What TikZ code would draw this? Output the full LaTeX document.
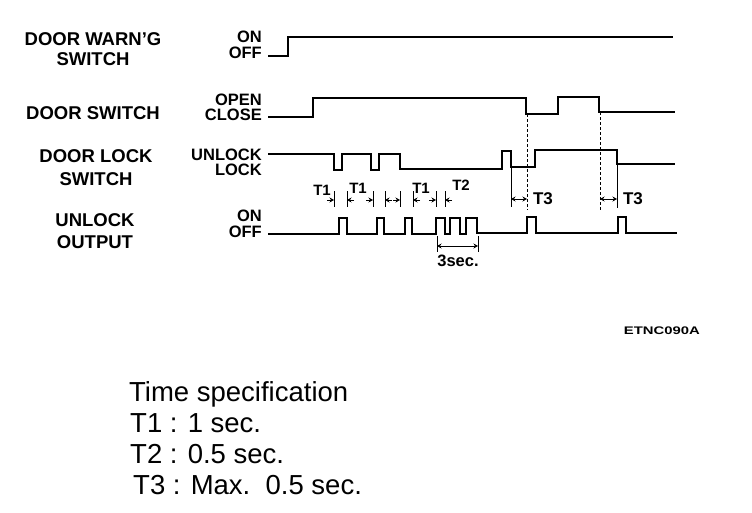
\documentclass[tikz,border=0pt]{standalone}
\usepackage{fontspec}
\setmainfont{Liberation Sans}
\usetikzlibrary{arrows.meta}

\begin{document}
\begin{tikzpicture}[x=1pt,y=1pt,yscale=-1,xscale=1,
    wave/.style={line width=1.7pt,line join=miter},
    guide/.style={line width=0.6pt},
    tickline/.style={line width=0.6pt},
    inarrow/.style={line width=0.8pt,-{Stealth[length=4.5pt,width=5pt]}},
    twoarrow/.style={line width=0.8pt,{Stealth[length=4.5pt,width=5pt]}-{Stealth[length=4.5pt,width=5pt]}},
    sig/.style={font=\fontsize{18.5}{18.5}\selectfont\bfseries,inner sep=0pt},
    lvl/.style={font=\fontsize{16.5}{16.5}\selectfont\bfseries,inner sep=0pt,anchor=east},
    tname/.style={font=\fontsize{15}{15}\selectfont\bfseries,inner sep=0pt},
    spec/.style={font=\fontsize{27.5}{27.5}\selectfont,inner sep=0pt,anchor=base west}]
        \useasboundingbox (0,0) rectangle (752,512);

        % Text Node
        \draw (93,39) node (warnA) [sig] {DOOR WARN'G};
        % Text Node
        \draw (93,59) node (warnB) [sig] {SWITCH};
        % Text Node
        \draw (93,113) node (doorA) [sig] {DOOR SWITCH};
        % Text Node
        \draw (96,156) node (lockA) [sig] {DOOR LOCK};
        % Text Node
        \draw (96,179) node (lockB) [sig] {SWITCH};
        % Text Node
        \draw (95,220) node (outA) [sig] {UNLOCK};
        % Text Node
        \draw (95,242) node (outB) [sig] {OUTPUT};

        % Text Node
        \draw (262,37) node (warnOn) [lvl] {ON};
        % Text Node
        \draw (262,53) node (warnOff) [lvl] {OFF};
        % Text Node
        \draw (262,100) node (doorOpen) [lvl] {OPEN};
        % Text Node
        \draw (262,115) node (doorClose) [lvl] {CLOSE};
        % Text Node
        \draw (262,155) node (lockUn) [lvl] {UNLOCK};
        % Text Node
        \draw (262,170) node (lockLk) [lvl] {LOCK};
        % Text Node
        \draw (262,216) node (outOn) [lvl] {ON};
        % Text Node
        \draw (262,232) node (outOff) [lvl] {OFF};

        %Shape: Polyline door warn'g switch
        \draw [wave] (268,56) -- (288,56) -- (288,37) -- (673,37) ;
        %Shape: Polyline door switch
        \draw [wave] (268,117) -- (313,117) -- (313,98) -- (526,98) -- (526,114) -- (558,114) -- (558,97) -- (599,97) -- (599,112) -- (675,112) ;
        %Shape: Polyline door lock switch
        \draw [wave] (268,154) -- (334,154) -- (334,170) -- (342,170) -- (342,154) -- (371,154) -- (371,170) -- (379,170) -- (379,154) -- (400,154) -- (400,169) -- (502,169) -- (502,151) -- (511,151) -- (511,167) -- (535,167) -- (535,150) -- (617,150) -- (617,164) -- (675,164) ;
        %Shape: Polyline unlock output
        \draw [wave] (268,234) -- (339,234) -- (339,218) -- (347,218) -- (347,234) -- (377,234) -- (377,218) -- (384,218) -- (384,234) -- (405,234) -- (405,218) -- (412,218) -- (412,234) -- (436,234) -- (436,218) -- (445,218) -- (445,234) -- (450,234) -- (450,218) -- (460,218) -- (460,234) -- (466,234) -- (466,218) -- (477,218) -- (477,233) -- (527,233) -- (527,217) -- (536,217) -- (536,233) -- (618,233) -- (618,217) -- (626,217) -- (626,233) -- (677,233) ;

        %Straight Lines T1 marks
        \draw [tickline] (334,191) -- (334,207) ;
        \draw [tickline] (347,191) -- (347,207) ;
        \draw [inarrow] (327,200) -- (334,200) ;
        \draw [inarrow] (354,200) -- (347,200) ;
        \draw [tickline] (373,191) -- (373,207) ;
        \draw [tickline] (385,191) -- (385,207) ;
        \draw [inarrow] (366,200) -- (373,200) ;
        \draw [inarrow] (392,200) -- (385,200) ;
        \draw [tickline] (400,191) -- (400,207) ;
        \draw [tickline] (413,191) -- (413,207) ;
        \draw [inarrow] (393,200) -- (400,200) ;
        \draw [inarrow] (420,200) -- (413,200) ;
        %Straight Lines T2 mark
        \draw [tickline] (436,191) -- (436,207) ;
        \draw [tickline] (445,191) -- (445,207) ;
        \draw [inarrow] (429,200) -- (436,200) ;
        \draw [inarrow] (452,200) -- (445,200) ;

        % Text Node
        \draw (322,190) node (tOneA) [tname] {T1};
        % Text Node
        \draw (358,188) node (tOneB) [tname] {T1};
        % Text Node
        \draw (421,188) node (tOneC) [tname] {T1};
        % Text Node
        \draw (461,185) node (tTwo) [tname] {T2};

        %Straight Lines T3 guides
        \draw [guide] (511,167) -- (511,207) ;
        \draw [guide,densely dashed] (527,114) -- (527,210) ;
        \draw [guide,densely dashed] (600,112) -- (600,211) ;
        \draw [guide] (617,164) -- (617,208) ;
        \draw [twoarrow] (511,199) -- (527,199) ;
        \draw [twoarrow] (600,199) -- (617,199) ;

        % Text Node
        \draw (543,199) node (tThreeA) [sig,font=\fontsize{17}{17}\selectfont\bfseries] {T3};
        % Text Node
        \draw (633,199) node (tThreeB) [sig,font=\fontsize{17}{17}\selectfont\bfseries] {T3};

        %Straight Lines 3sec. span
        \draw [tickline] (437,236) -- (437,252) ;
        \draw [tickline] (478,236) -- (478,252) ;
        \draw [twoarrow] (437,246) -- (478,246) ;
        % Text Node
        \draw (458,261) node (threeSec) [font=\fontsize{16.5}{16.5}\selectfont\bfseries,inner sep=0pt] {3sec.};

        % Text Node
        \draw (700,334) node (figId) [anchor=base east,inner sep=0pt,font=\fontsize{11}{11}\selectfont\bfseries] {\scalebox{1.35}[1]{ETNC090A}};

        % Text Node
        \draw (129,401) node (specHead) [spec] {Time specification};
        % Text Node
        \draw (130,432) node (specOne) [spec] {T1 : 1 sec.};
        % Text Node
        \draw (130,463) node (specTwo) [spec] {T2 : 0.5 sec.};
        % Text Node
        \draw (133,494) node (specThree) [spec] {T3 : Max.\ \ 0.5 sec.};

        \end{tikzpicture}
\end{document}
